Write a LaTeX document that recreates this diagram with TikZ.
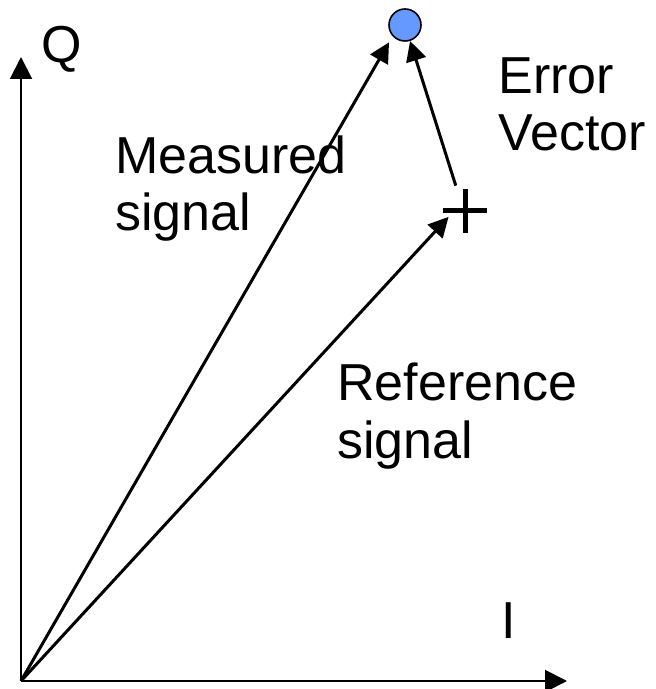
\documentclass[tikz,border=0pt]{standalone}
\usepackage{fontspec}
\setmainfont{Liberation Sans}
\usetikzlibrary{arrows.meta}
\definecolor{dotblue}{RGB}{102,153,255}
\begin{document}
\begin{tikzpicture}[x=0.5pt,y=-0.5pt,
  axis/.style={line width=1pt,-{Triangle[length=11pt,width=11pt]}},
  vec/.style={line width=1.5pt,-{Triangle[length=10pt,width=10pt]}},
  lbl/.style={anchor=base west,inner sep=0pt,align=left,font=\fontsize{26}{28.75}\selectfont}]
\useasboundingbox (0,0) rectangle (656,689);
\coordinate (O) at (21,681);
\coordinate (Iend) at (567,681);
\coordinate (Qend) at (21,57);
\draw[axis] (O) -- (Iend);
\draw[axis] (O) -- (Qend);
\node[circle,draw,line width=0.8pt,fill=dotblue,minimum size=16pt,inner sep=0pt] (meas) at (405,25) {};
\node[rectangle,minimum width=22pt,minimum height=25pt,inner sep=0pt] (ref) at (465,211) {};
\draw[line width=2.5pt] (ref.west) -- (ref.east);
\draw[line width=2.5pt] ([yshift=-1.5pt]ref.north) -- ([yshift=1.5pt]ref.south);
\draw[vec,shorten >=10pt] (O) -- ([xshift=-3pt]meas.center);
\draw[vec,shorten >=4pt] (O) -- ([xshift=-5.5pt]ref.center);
\draw[vec] (ref.110) -- (meas);
\node[lbl] (qlbl) at (41,63) {Q};
\node[lbl] (ilbl) at (501,638) {I};
\node[lbl] (measlbl) at (115,231) {Measured\\signal};
\node[lbl] (errlbl) at (498,151) {Error\\Vector};
\node[lbl] (reflbl) at (337,458) {Reference\\signal};
\end{tikzpicture}
\end{document}
